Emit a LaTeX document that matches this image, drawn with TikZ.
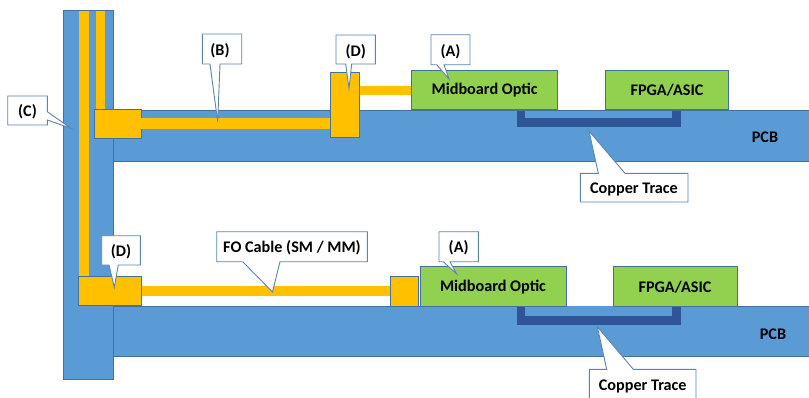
\documentclass[tikz,border=0pt]{standalone}
\usepackage{fontspec}
\setmainfont{Carlito}
\definecolor{pcb}{HTML}{5B9BD5}
\definecolor{edge}{HTML}{41719C}
\definecolor{fiber}{HTML}{FFC000}
\definecolor{chip}{HTML}{92D050}
\definecolor{copper}{HTML}{2F5597}
\definecolor{cedge}{HTML}{5A85B0}
\begin{document}
\begin{tikzpicture}[x=1pt,y=-1pt,
  board/.style={fill=pcb,draw=edge,line width=0.8pt},
  fib/.style={fill=fiber},
  conn/.style={fill=fiber,draw=edge,line width=0.8pt},
  chipbox/.style={fill=chip,draw=edge,line width=0.8pt},
  cu/.style={fill=copper},
  callout/.style={fill=white,draw=cedge,line width=0.9pt,line join=miter},
  lbl/.style={font=\fontsize{16.2}{19}\selectfont\bfseries,inner sep=0pt}]
\useasboundingbox (0,0) rectangle (809,397);
\clip (0,0) rectangle (809,397);
% boards
\draw[board] (63,10) rectangle (113,379);
\draw[board] (113,110) rectangle (815,161);
\draw[board] (113,306) rectangle (815,356);
% vertical fibers
\fill[fib] (78.7,11) rectangle (88.7,277);
\fill[fib] (95.7,11) rectangle (105,110);
% top row
\draw[conn] (94.7,109.3) rectangle (141.3,138);
\fill[fib] (141.3,118.3) rectangle (330.5,128.7);
\draw[conn] (330.3,72.3) rectangle (359.7,137.3);
\fill[fib] (360,86) rectangle (411.7,94.7);
\fill[cu] (516.7,110.5) rectangle (681.3,126.7);
\fill[pcb] (525,110.5) rectangle (672.3,117.7);
\draw[chipbox] (411.7,70) rectangle (557.7,109);
\node[lbl] (mo1) at (484.7,90) {Midboard Optic};
\draw[chipbox] (605.3,70) rectangle (728.7,109);
\node[lbl] (fp1) at (667,90) {FPGA/ASIC};
\node[lbl] (pcb1) at (765,137) {PCB};
% bottom row
\draw[conn] (78.7,276) rectangle (141.7,305);
\fill[fib] (141.7,285.7) rectangle (390,295.7);
\draw[conn] (390,276.3) rectangle (418.3,306);
\fill[cu] (516.7,306.4) rectangle (681.3,325);
\fill[pcb] (525,306.4) rectangle (672.3,315.7);
\draw[chipbox] (420,266.7) rectangle (566,306);
\node[lbl] (mo2) at (493,287) {Midboard Optic};
\draw[chipbox] (613.3,266.7) rectangle (737.3,306);
\node[lbl] (fp2) at (675,287) {FPGA/ASIC};
\node[lbl] (pcb2) at (773,334) {PCB};
% callouts
\draw[callout] (202.3,34) -- (241.7,34) -- (241.7,64) -- (220,64) -- (217.7,121.7) -- (210,64) -- (202.3,64) -- cycle;
\node[lbl] (cb) at (220,51) {(B)};
\draw[callout] (7.7,96) -- (47.3,96) -- (47.3,111.7) -- (71,128.3) -- (47.3,120) -- (47.3,125) -- (7.7,125) -- cycle;
\node[lbl] (cc) at (27.5,112) {(C)};
\draw[callout] (336,35) -- (375.3,35) -- (375.3,64) -- (351.7,64) -- (349,88.3) -- (345.7,64) -- (336,64) -- cycle;
\node[lbl] (cd1) at (355.7,51.5) {(D)};
\draw[callout] (431,34.7) -- (470,34.7) -- (470,64.7) -- (444,64.7) -- (449,79) -- (436.7,64.7) -- (431,64.7) -- cycle;
\node[lbl] (ca1) at (450.5,51.5) {(A)};
\draw[callout] (580.3,173.3) -- (598.3,173.3) -- (589,131) -- (625,173.3) -- (688,173.3) -- (688,202) -- (580.3,202) -- cycle;
\node[lbl] (ct1) at (634,189) {Copper Trace};
\draw[callout] (101.7,235.7) -- (140.3,235.7) -- (140.3,265) -- (118.3,265) -- (114.3,287.3) -- (109,265) -- (101.7,265) -- cycle;
\node[lbl] (cd2) at (121,252) {(D)};
\draw[callout] (216.7,231.7) -- (367.3,231.7) -- (367.3,261.7) -- (280,261.7) -- (272.5,292) -- (242.7,261.7) -- (216.7,261.7) -- cycle;
\node[lbl] (fo) at (292,248) {FO Cable (SM / MM)};
\draw[callout] (439,231.7) -- (478.3,231.7) -- (478.3,261.7) -- (450,261.7) -- (456.7,274) -- (443.3,261.7) -- (439,261.7) -- cycle;
\node[lbl] (ca2) at (458.7,248) {(A)};
\draw[callout] (589.3,369.3) -- (606.7,369.3) -- (597.3,326.7) -- (633.3,369.3) -- (696,369.3) -- (696,402) -- (589.3,402) -- cycle;
\node[lbl] (ct2) at (642.7,386.5) {Copper Trace};
\end{tikzpicture}
\end{document}
